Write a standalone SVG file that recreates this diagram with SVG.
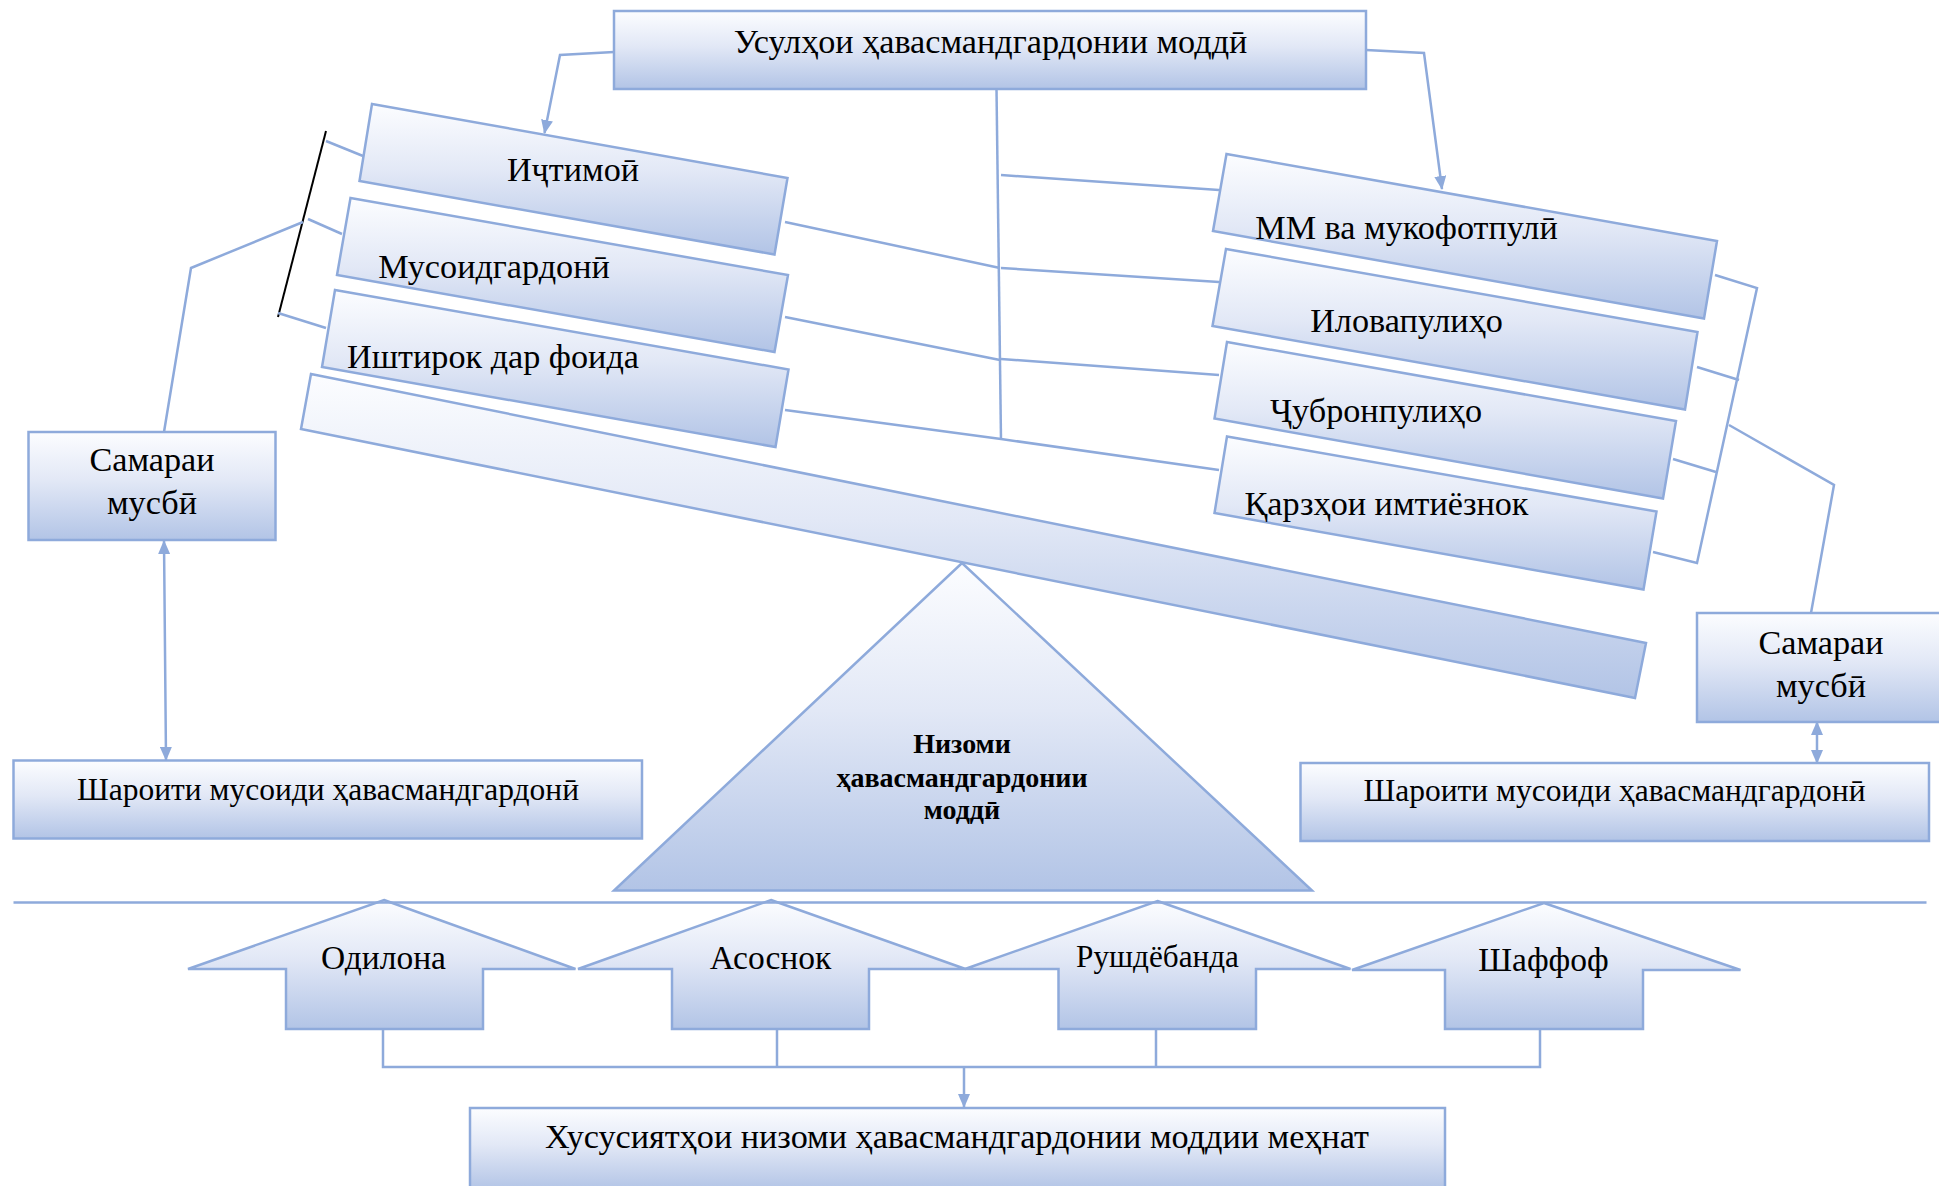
<svg xmlns="http://www.w3.org/2000/svg" width="1939" height="1186" viewBox="0 0 1939 1186">
<style>
.n{fill:url(#g);stroke:#8EAADB;stroke-width:2.5;stroke-linejoin:miter}
.c{fill:none;stroke:#8EAADB;stroke-width:2.5}
.k{fill:none;stroke:#000;stroke-width:2}
text{font-family:'Liberation Serif',serif;fill:#000;text-anchor:middle}
.t{font-size:34.2px}
.s{font-size:31.5px}
.a{font-size:33.5px}
.r{font-size:31.2px}
.b{font-size:28px;font-weight:bold}
</style>
<defs>
<linearGradient id="g" x1="0" y1="0" x2="0" y2="1">
<stop offset="0" stop-color="#FCFDFF"/>
<stop offset="0.45" stop-color="#E2E8F6"/>
<stop offset="1" stop-color="#B2C4E6"/>
</linearGradient>
<marker id="ah" viewBox="0 0 14 12" refX="13" refY="6" markerWidth="14" markerHeight="12" markerUnits="userSpaceOnUse" orient="auto-start-reverse">
<path d="M0,0 L14,6 L0,12 z" fill="#8EAADB"/>
</marker>
</defs>
<rect width="1939" height="1186" fill="#fff"/>

<g id="beam"><polygon class="n" points="311,374 1646,643 1635,698 301,429"/></g>
<g id="pyramid"><polygon class="n" points="962,563 1312,890.5 614,890.5"/>
<text class="b" x="962" y="753">Низоми</text>
<text class="b" x="962" y="787">ҳавасмандгардонии</text>
<text class="b" x="962" y="819">моддӣ</text></g>

<g id="top"><rect class="n" x="614" y="11" width="752" height="78"/>
<text class="t" x="990.5" y="53">Усулҳои ҳавасмандгардонии моддӣ</text></g>

<g id="ijtimoi"><polygon class="n" points="372,104 787.5,178 774.5,254.5 359.5,181"/>
<text class="t" x="573" y="181">Иҷтимоӣ</text></g>
<g id="musoidgardoni"><polygon class="n" points="350.5,198 788,275 774.5,352 337,275"/>
<text class="t" x="494" y="277.5">Мусоидгардонӣ</text></g>
<g id="ishtirok"><polygon class="n" points="335,290 788.5,369.5 775.5,447 322,367"/>
<text class="t" x="493" y="368">Иштирок дар фоида</text></g>

<g id="mm"><polygon class="n" points="1226.5,154 1717,241 1704,318.5 1213,231"/>
<text class="t" x="1406.5" y="238.5">ММ ва мукофотпулӣ</text></g>
<g id="ilova"><polygon class="n" points="1226,249 1697.5,332 1685,409.5 1212.5,326"/>
<text class="t" x="1406.5" y="331.5">Иловапулиҳо</text></g>
<g id="jubron"><polygon class="n" points="1227,342 1676,421 1663,498.5 1214.5,418.5"/>
<text class="t" x="1376" y="421.5">Ҷубронпулиҳо</text></g>
<g id="qarz"><polygon class="n" points="1227,436.5 1656.5,511.5 1643.5,589.5 1214.5,513"/>
<text class="t" x="1386.5" y="515">Қарзҳои имтиёзнок</text></g>

<g id="samara-left"><rect class="n" x="28.5" y="432" width="247" height="108"/>
<text class="t" x="152" y="471">Самараи</text>
<text class="t" x="152" y="513.5">мусбӣ</text></g>
<g id="sharoit-left"><rect class="n" x="13.5" y="760.5" width="628.5" height="78"/>
<text class="s" x="328" y="800">Шароити мусоиди ҳавасмандгардонӣ</text></g>

<g id="samara-right"><rect class="n" x="1697" y="613" width="260" height="109"/>
<text class="t" x="1821" y="654">Самараи</text>
<text class="t" x="1821" y="696.5">мусбӣ</text></g>
<g id="sharoit-right"><rect class="n" x="1300.5" y="763" width="628.5" height="78"/>
<text class="s" x="1614.5" y="801">Шароити мусоиди ҳавасмандгардонӣ</text></g>

<g id="odilona"><polygon class="n" points="384,900 575.5,969 483,969 483,1029 286,1029 286,969 188,969"/>
<text class="a" x="383.5" y="969">Одилона</text></g>
<g id="asosnok"><polygon class="n" points="771,900 965.5,969 869,969 869,1029 672,1029 672,969 578,969"/>
<text class="a" x="770.5" y="969">Асоснок</text></g>
<g id="rushdyoband"><polygon class="n" points="1157.5,901 1350.5,969 1256,969 1256,1029 1058.5,1029 1058.5,969 965,969"/>
<text class="r" x="1157.5" y="967">Рушдёбанда</text></g>
<g id="shaffof"><polygon class="n" points="1544,903 1740.5,970 1643,970 1643,1029 1445,1029 1445,970 1352,970"/>
<text class="a" x="1543.5" y="970.5">Шаффоф</text></g>

<g id="bottom"><rect class="n" x="470" y="1108" width="975" height="82"/>
<text class="t" x="957" y="1148">Хусусиятҳои низоми ҳавасмандгардонии моддии меҳнат</text></g>

<g id="connectors">
<path class="c" d="M614,52 L560,55 L544.5,133" marker-end="url(#ah)"/>
<path class="c" d="M1366,50 L1424,53 L1442,189" marker-end="url(#ah)"/>
<path class="c" d="M996.5,89 L1001,440"/>
<path class="c" d="M1001,175 L1219,190"/>
<path class="c" d="M1001,268 L1219,282"/>
<path class="c" d="M1001,359 L1219,375"/>
<path class="c" d="M1001,439 L1219,470"/>
<path class="c" d="M785,222 L1000,268"/>
<path class="c" d="M785,317 L1000,360"/>
<path class="c" d="M785,410 L1001,439"/>
<path class="k" d="M326,131 L278,317"/>
<path class="c" d="M326,141 L363,156"/>
<path class="c" d="M308,219 L342,234"/>
<path class="c" d="M278,313 L326,328"/>
<path class="c" d="M164,432 L191,268 L303,222"/>
<path class="c" d="M164,541 L165,650 L166,760" marker-start="url(#ah)" marker-end="url(#ah)"/>
<path class="c" d="M1715,275 L1757,288 L1697,563 L1653,552"/>
<path class="c" d="M1697,367 L1739,380"/>
<path class="c" d="M1673,459 L1716,472"/>
<path class="c" d="M1729,425 L1834,485 L1811,613"/>
<path class="c" d="M1817,722 L1817,763" marker-start="url(#ah)" marker-end="url(#ah)"/>
<path class="c" d="M13.5,902.5 L1926.5,902.5"/>
<path class="c" d="M383,1029 L383,1067 L1540,1067 L1540,1029"/>
<path class="c" d="M777,1029 L777,1067"/>
<path class="c" d="M1156,1029 L1156,1067"/>
<path class="c" d="M964,1067 L964,1107" marker-end="url(#ah)"/>
</g>
</svg>
